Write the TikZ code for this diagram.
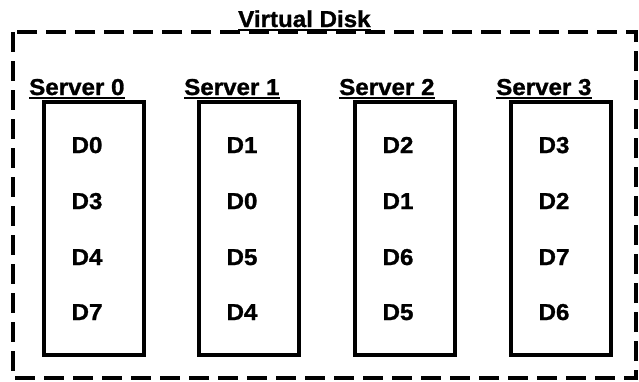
\documentclass[tikz,border=0pt]{standalone}
\usepackage{fontspec}
\setmainfont{Liberation Sans}[FakeStretch=1.05, BoldFeatures={FakeBold=1.2}]
\begin{document}
\begin{tikzpicture}[x=1pt,y=-1pt,
  lbl/.style={font=\fontsize{23}{27}\selectfont\bfseries, inner sep=0pt, anchor=base west},
  ent/.style={font=\fontsize{23}{27}\selectfont\bfseries, inner sep=0pt, anchor=base},
  srvbox/.style={draw, line width=4pt, minimum width=100pt, minimum height=253pt, anchor=north west, inner sep=0pt},
  outer/.style={draw, line width=4pt, dash pattern=on 20pt off 9pt},
  uline/.style={line width=2pt}]
\useasboundingbox (0,0) rectangle (639,381);
\draw[outer] (13,32) rectangle (636,378);
\node[lbl] (vd) at (238,27) {Virtual Disk};
\draw[uline] ([yshift=-3pt]vd.base west) -- ([yshift=-3pt]vd.base east);
% server labels
\node[lbl] (s0) at (29,95) {Server 0};
\node[lbl] (s1) at (184,95) {Server 1};
\node[lbl] (s2) at (339,95) {Server 2};
\node[lbl] (s3) at (496,95) {Server 3};
\foreach \s in {s0,s1,s2,s3}{
  \draw[uline] ([yshift=-2.5pt]\s.base west) -- ([yshift=-2.5pt]\s.base east);
}
% boxes
\node[srvbox] (b0) at (42,100) {};
\node[srvbox] (b1) at (197,100) {};
\node[srvbox] (b2) at (353,100) {};
\node[srvbox] (b3) at (509,100) {};
% entries
\node[ent] (e00) at (87,153) {D0};
\node[ent] (e01) at (87,209) {D3};
\node[ent] (e02) at (87,265) {D4};
\node[ent] (e03) at (87,320) {D7};
\node[ent] (e10) at (242,153) {D1};
\node[ent] (e11) at (242,209) {D0};
\node[ent] (e12) at (242,265) {D5};
\node[ent] (e13) at (242,320) {D4};
\node[ent] (e20) at (398,153) {D2};
\node[ent] (e21) at (398,209) {D1};
\node[ent] (e22) at (398,265) {D6};
\node[ent] (e23) at (398,320) {D5};
\node[ent] (e30) at (554,153) {D3};
\node[ent] (e31) at (554,209) {D2};
\node[ent] (e32) at (554,265) {D7};
\node[ent] (e33) at (554,320) {D6};
\end{tikzpicture}
\end{document}
